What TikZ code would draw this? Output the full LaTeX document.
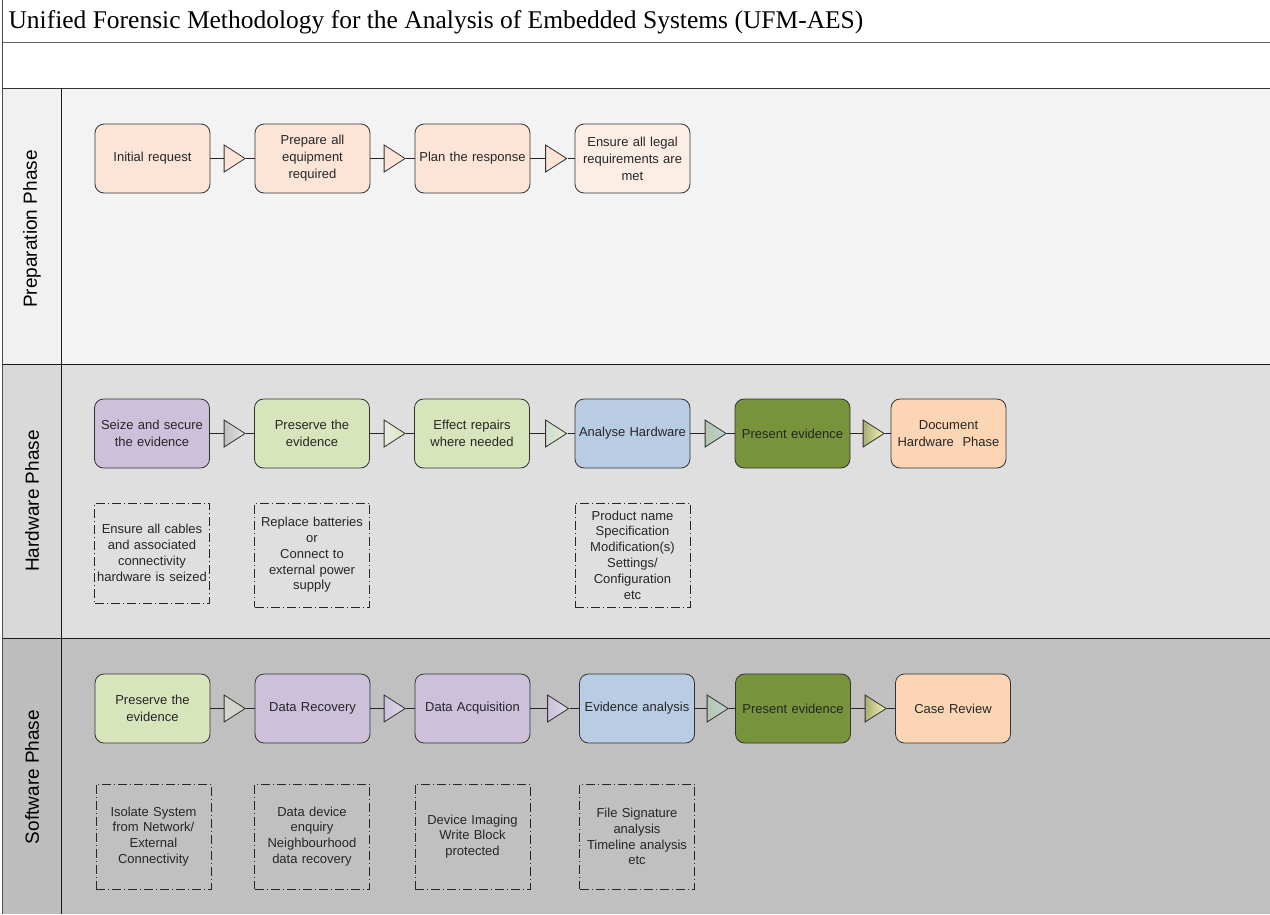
\documentclass[tikz,border=0pt]{standalone}
\usepackage{fontspec}
\setmainfont{Liberation Serif}
\setsansfont{Liberation Sans}
\usetikzlibrary{shapes.geometric}
\definecolor{peach}{HTML}{FCE4D6}
\definecolor{peachlight}{HTML}{FDEEE5}
\definecolor{lilac}{HTML}{CCC0DA}
\definecolor{palegreen}{HTML}{D8E4BC}
\definecolor{paleblue}{HTML}{B8CCE4}
\definecolor{olivegreen}{HTML}{77933C}
\definecolor{apricot}{HTML}{FCD5B4}
\definecolor{boxline}{HTML}{333333}
\definecolor{laneone}{HTML}{F3F3F3}
\definecolor{laneonehead}{HTML}{F1F1F1}
\definecolor{lanetwo}{HTML}{DFDFDF}
\definecolor{lanetwohead}{HTML}{D9D9D9}
\definecolor{lanethree}{HTML}{C0C0C0}
\definecolor{lanethreehead}{HTML}{BEBEBE}
\tikzset{
  stepbox/.style={draw=boxline, line width=0.8pt, rounded corners=9pt, minimum width=115pt,
                  minimum height=69pt, text width=108pt, align=center, inner sep=0pt,
                  font=\sffamily\fontsize{13}{17}\selectfont, text=black!85},
  notebox/.style={draw=black!85, dash pattern=on 9pt off 3pt on 1pt off 3pt,
                  minimum width=115pt, text width=112pt, align=center, inner sep=0pt,
                  font=\sffamily\fontsize{13}{15.8}\selectfont, text=black!85},
  flowtri/.style={isosceles triangle, isosceles triangle stretches, draw=black!80,
                  line width=0.8pt, minimum width=27pt, minimum height=21pt, inner sep=0pt},
  flowline/.style={draw=black!85, line width=0.8pt},
  lanelabel/.style={rotate=90, font=\sffamily\fontsize{19}{21}\selectfont},
}
\begin{document}
\begin{tikzpicture}[x=1pt, y=-1pt]
    \useasboundingbox (0,0) rectangle (1270,914);
    % lanes
    \fill[white] (0,0) rectangle (1270,88);
    \fill[laneonehead] (2.5,88) rectangle (61,364);
    \fill[laneone] (61,88) rectangle (1270,364);
    \fill[lanetwohead] (2.5,364) rectangle (61,638);
    \fill[lanetwo] (61,364) rectangle (1270,638);
    \fill[lanethreehead] (2.5,638) rectangle (61,914);
    \fill[lanethree] (61,638) rectangle (1270,914);
    \draw[black!60, line width=1pt] (2.5,42) -- (1270,42);
    \draw[black!80, line width=1pt] (2.5,88) -- (1270,88);
    \draw[black!90, line width=1pt] (2.5,364) -- (1270,364);
    \draw[black!90, line width=1pt] (2.5,638) -- (1270,638);
    \draw[black!90, line width=1pt] (61,88) -- (61,914);
    \draw[black!70, line width=1.2pt] (2.5,0) -- (2.5,914);
    \node[anchor=west, font=\fontsize{25.5}{28}\selectfont] (title) at (5,22)
      {Unified Forensic Methodology for the Analysis of Embedded Systems (UFM-AES)};
    \node[lanelabel] (prep) at (32,229) {Preparation Phase};
    \node[lanelabel] (hw) at (32,501) {Hardware Phase};
    \node[lanelabel] (sw) at (32,777) {Software Phase};

    % preparation phase
    \node[stepbox, fill=peach] (p1) at (152.5,158.5) {Initial request};
    \node[stepbox, fill=peach] (p2) at (312.5,158.5) {Prepare all\\ equipment\\ required};
    \node[stepbox, fill=peach] (p3) at (472.5,158.5) {Plan the response};
    \node[stepbox, fill=peachlight] (p4) at (632.5,158.5) {Ensure all legal\\ requirements are\\ met};
    \node[flowtri, fill=peach] (pt1) at (231.5,158.5) {};
    \node[flowtri, fill=peach] (pt2) at (391.5,158.5) {};
    \node[flowtri, fill=peach] (pt3) at (553,158.5) {};
    \draw[flowline] (p1) -- (pt1); \draw[flowline] (pt1) -- (p2);
    \draw[flowline] (p2) -- (pt2); \draw[flowline] (pt2) -- (p3);
    \draw[flowline] (p3) -- (pt3); \draw[flowline] (pt3) -- (p4);

    % hardware phase
    \node[stepbox, fill=lilac] (h1) at (152,433.5) {Seize and secure\\ the evidence};
    \node[stepbox, fill=palegreen] (h2) at (312,433.5) {Preserve the\\ evidence};
    \node[stepbox, fill=palegreen] (h3) at (472,433.5) {Effect repairs\\ where needed};
    \node[stepbox, fill=paleblue] (h4) at (632.5,433.5) {Analyse Hardware};
    \node[stepbox, fill=olivegreen] (h5) at (792.5,433.5) {Present evidence};
    \node[stepbox, fill=apricot] (h6) at (948.5,433.5) {Document\\ Hardware\ \ Phase};
    \node[flowtri, left color=black!25, right color=palegreen!60!black!20] (ht1) at (231.5,433.5) {};
    \node[flowtri, left color=palegreen!80!black!25, right color=palegreen] (ht2) at (391.5,433.5) {};
    \node[flowtri, left color=palegreen!60!paleblue!90, right color=palegreen!70!white] (ht3) at (553,433.5) {};
    \node[flowtri, left color=olivegreen!55!paleblue!70, right color=paleblue!80!palegreen] (ht4) at (712.5,433.5) {};
    \node[flowtri, left color=olivegreen!50!yellow!60!black!60, right color=olivegreen!30!apricot!60!yellow!40] (ht5) at (870.5,433.5) {};
    \draw[flowline] (h1) -- (ht1); \draw[flowline] (ht1) -- (h2);
    \draw[flowline] (h2) -- (ht2); \draw[flowline] (ht2) -- (h3);
    \draw[flowline] (h3) -- (ht3); \draw[flowline] (ht3) -- (h4);
    \draw[flowline] (h4) -- (ht4); \draw[flowline] (ht4) -- (h5);
    \draw[flowline] (h5) -- (ht5); \draw[flowline] (ht5) -- (h6);
    \node[notebox, minimum height=100pt] (hn1) at (152,553)
      {Ensure all cables\\ and associated\\ connectivity\\ hardware is seized};
    \node[notebox, minimum height=104pt] (hn2) at (312,555)
      {Replace batteries\\ or\\ Connect to\\ external power\\ supply};
    \node[notebox, minimum height=104pt] (hn4) at (632.5,555)
      {Product name\\ Specification\\ Modification(s)\\ Settings/\\ Configuration\\ etc};

    % software phase
    \node[stepbox, fill=palegreen] (s1) at (152.5,708.5) {Preserve the\\ evidence};
    \node[stepbox, fill=lilac] (s2) at (312.5,708.5) {Data Recovery};
    \node[stepbox, fill=lilac] (s3) at (472.5,708.5) {Data Acquisition};
    \node[stepbox, fill=paleblue] (s4) at (637,708.5) {Evidence analysis};
    \node[stepbox, fill=olivegreen] (s5) at (793,708.5) {Present evidence};
    \node[stepbox, fill=apricot] (s6) at (953,708.5) {Case Review};
    \node[flowtri, left color=palegreen!50!black!30, right color=palegreen!60!lilac] (st1) at (231.5,708.5) {};
    \node[flowtri, left color=lilac!90!paleblue, right color=lilac!60!white] (st2) at (391.5,708.5) {};
    \node[flowtri, left color=lilac!90!paleblue, right color=lilac!60!white] (st3) at (555,708.5) {};
    \node[flowtri, left color=olivegreen!55!paleblue!70, right color=paleblue!80!palegreen] (st4) at (714.5,708.5) {};
    \node[flowtri, left color=olivegreen!50!yellow!60!black!60, right color=olivegreen!30!apricot!60!yellow!40] (st5) at (872.5,708.5) {};
    \draw[flowline] (s1) -- (st1); \draw[flowline] (st1) -- (s2);
    \draw[flowline] (s2) -- (st2); \draw[flowline] (st2) -- (s3);
    \draw[flowline] (s3) -- (st3); \draw[flowline] (st3) -- (s4);
    \draw[flowline] (s4) -- (st4); \draw[flowline] (st4) -- (s5);
    \draw[flowline] (s5) -- (st5); \draw[flowline] (st5) -- (s6);
    \node[notebox, minimum height=105pt] (sn1) at (153.5,836.5)
      {Isolate System\\ from Network/\\ External\\ Connectivity};
    \node[notebox, minimum height=105pt] (sn2) at (312,836.5)
      {Data device\\ enquiry\\ Neighbourhood\\ data recovery};
    \node[notebox, minimum height=105pt] (sn3) at (472.5,836.5)
      {Device Imaging\\ Write Block\\ protected};
    \node[notebox, minimum height=105pt] (sn4) at (637,836.5)
      {File Signature\\ analysis\\ Timeline analysis\\ etc};
\end{tikzpicture}
\end{document}
